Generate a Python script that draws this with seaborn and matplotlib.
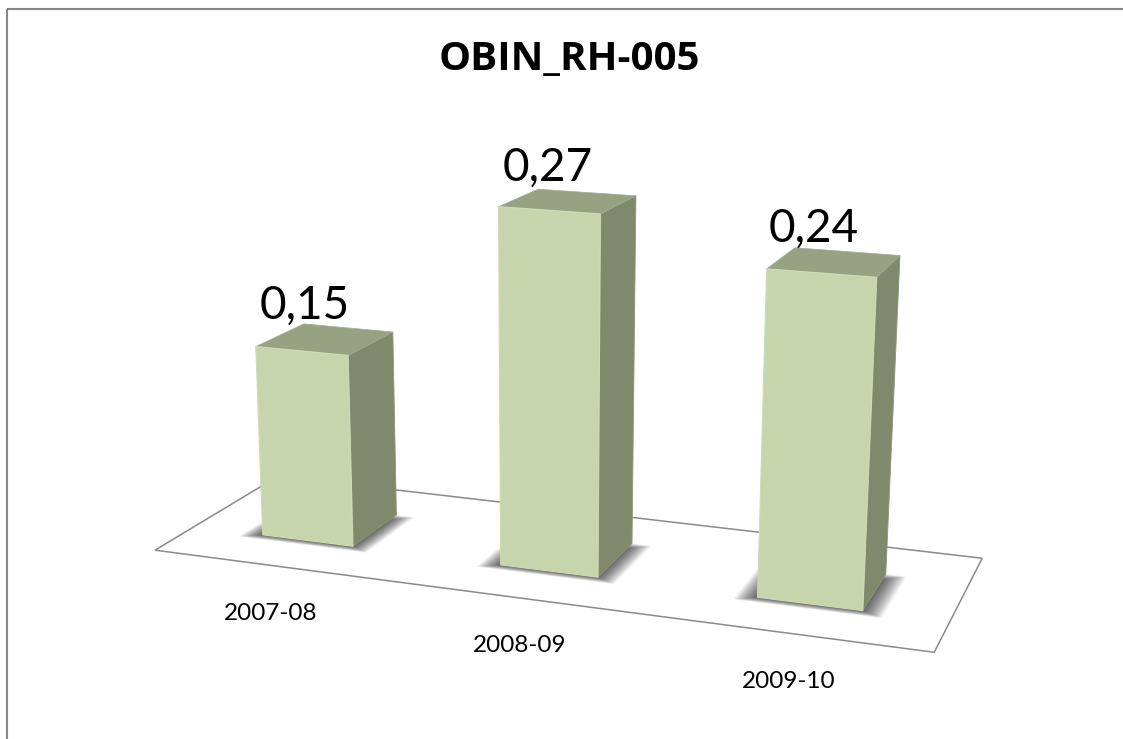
import numpy as np
import matplotlib
matplotlib.use("Agg")
import matplotlib.pyplot as plt
from matplotlib.patches import Polygon, Rectangle
from matplotlib.transforms import Affine2D, Transform
import seaborn as sns

# ---- data -----------------------------------------------------------------
title = "OBIN_RH-005"
years = ["2007-08", "2008-09", "2009-10"]
values = [0.15, 0.27, 0.24]
value_labels = ["0,15", "0,27", "0,24"]

# ---- style ----------------------------------------------------------------
W_PX, H_PX = 1123, 739
FRONT, SIDE, TOP = "#C6D5AB", "#7F8A6C", "#97A283"
FLOOR_LINE = "#8A8A8A"
BAR_WIDTH = 0.388
DEPTH_FRONT, DEPTH_BACK = 0.3, 0.7

sns.set_theme(style="white")
plt.rcParams["font.family"] = ["Lato", "DejaVu Sans"]


def project(x, depth, value):
    """Perspective camera: category position, floor depth (0-1), value -> pixels."""
    u = (np.asarray(x, float) + 0.5) / 3.0
    t = np.asarray(depth, float)
    v = np.asarray(value, float)
    w = 1 - 0.1131 * u + 0.11425 * t - 0.1637 * v
    px = (673.4 * u + 154.8 * t + 153.6 - 89.5 * v) / w
    py = (28.3 * u - 19.6 * t + 550 - 1340.6 * v) / w
    return np.column_stack([np.atleast_1d(px), np.atleast_1d(py)])


class PerspectivePlane(Transform):
    """Maps the axes' (category, value) data plane at one depth to display pixels."""
    input_dims = output_dims = 2
    is_separable = False
    has_inverse = False

    def __init__(self, plane_depth):
        super().__init__()
        self.plane_depth = plane_depth

    def transform_non_affine(self, values):
        values = np.asarray(values, float)
        out = project(values[:, 0], np.full(len(values), self.plane_depth), values[:, 1])
        out[:, 1] = H_PX - out[:, 1]
        return out


fig = plt.figure(figsize=(W_PX / 100, H_PX / 100), dpi=100, facecolor="white")
ax = fig.add_axes([0, 0, 1, 1])
pixels = Affine2D().scale(1, -1).translate(0, H_PX)  # image pixels -> display


def face(x, depth, value, **kw):
    ax.add_patch(Polygon(project(x, depth, value), closed=True, transform=pixels, **kw))


sns.barplot(x=years, y=values, color=FRONT, saturation=1, width=BAR_WIDTH, ax=ax, zorder=5)
ax.set_axis_off()
bars = list(ax.patches)

# chart frame (its right and bottom sides lie outside the picture)
ax.add_patch(Rectangle((7, 9), 1300, 900, transform=pixels, fill=False,
                       edgecolor="#868686", linewidth=1.5, zorder=1))

# floor
n = len(years)
floor_x = [-0.494, n - 0.494, n - 0.494, -0.494]
floor_t = [0, 0, 1, 1]
face(floor_x, floor_t, [0] * 4, facecolor="white", edgecolor=FLOOR_LINE,
     linewidth=1.1, zorder=2)

for i, bar in enumerate(bars):
    x0, x1 = bar.get_x(), bar.get_x() + bar.get_width()
    v = bar.get_height()
    tf, tb = DEPTH_FRONT, DEPTH_BACK

    # soft shadow on the floor: nested translucent footprints
    for s in np.linspace(1, 0, 34):
        grow_x = 0.08 * s
        grow_f = 0.05 * s
        grow_b = 0.06 * (1 - s)
        face([x0 - grow_x, x1 + grow_x, x1 + grow_x, x0 - grow_x],
             [tf - grow_f, tf - grow_f, tb - grow_b, tb - grow_b], [0] * 4,
             facecolor="black", edgecolor="none", alpha=0.022, zorder=3)

    # side and top faces, then the seaborn bar as the front face
    face([x1, x1, x1, x1], [tf, tb, tb, tf], [0, 0, v, v], facecolor=SIDE,
         edgecolor="#8C9678", linewidth=0.6, zorder=4)
    face([x0, x1, x1, x0], [tf, tf, tb, tb], [v] * 4, facecolor=TOP,
         edgecolor="#A3AD90", linewidth=0.5, zorder=4)
    bar.set_transform(PerspectivePlane(tf))
    bar.set_edgecolor("#CFDBB8")
    bar.set_linewidth(0.8)

    # labels
    cx, cy = project((x0 + x1) / 2, (tf + tb) / 2, v)[0]
    ax.text(cx - 21, cy - 20, value_labels[i], transform=pixels, ha="center",
            va="baseline", fontsize=33, color="black", zorder=6)
    fx, fy = project((x0 + x1) / 2, 0, 0)[0]
    ax.text(fx, fy + 48, years[i], transform=pixels, ha="center", va="center",
            fontsize=17.5, color="black", zorder=6)

ax.text(569, 70, title, transform=pixels, ha="center", va="baseline", fontsize=29,
        fontweight="bold", family=["Open Sans", "DejaVu Sans"], color="black", zorder=6)

fig.savefig("out.png", dpi=100)
